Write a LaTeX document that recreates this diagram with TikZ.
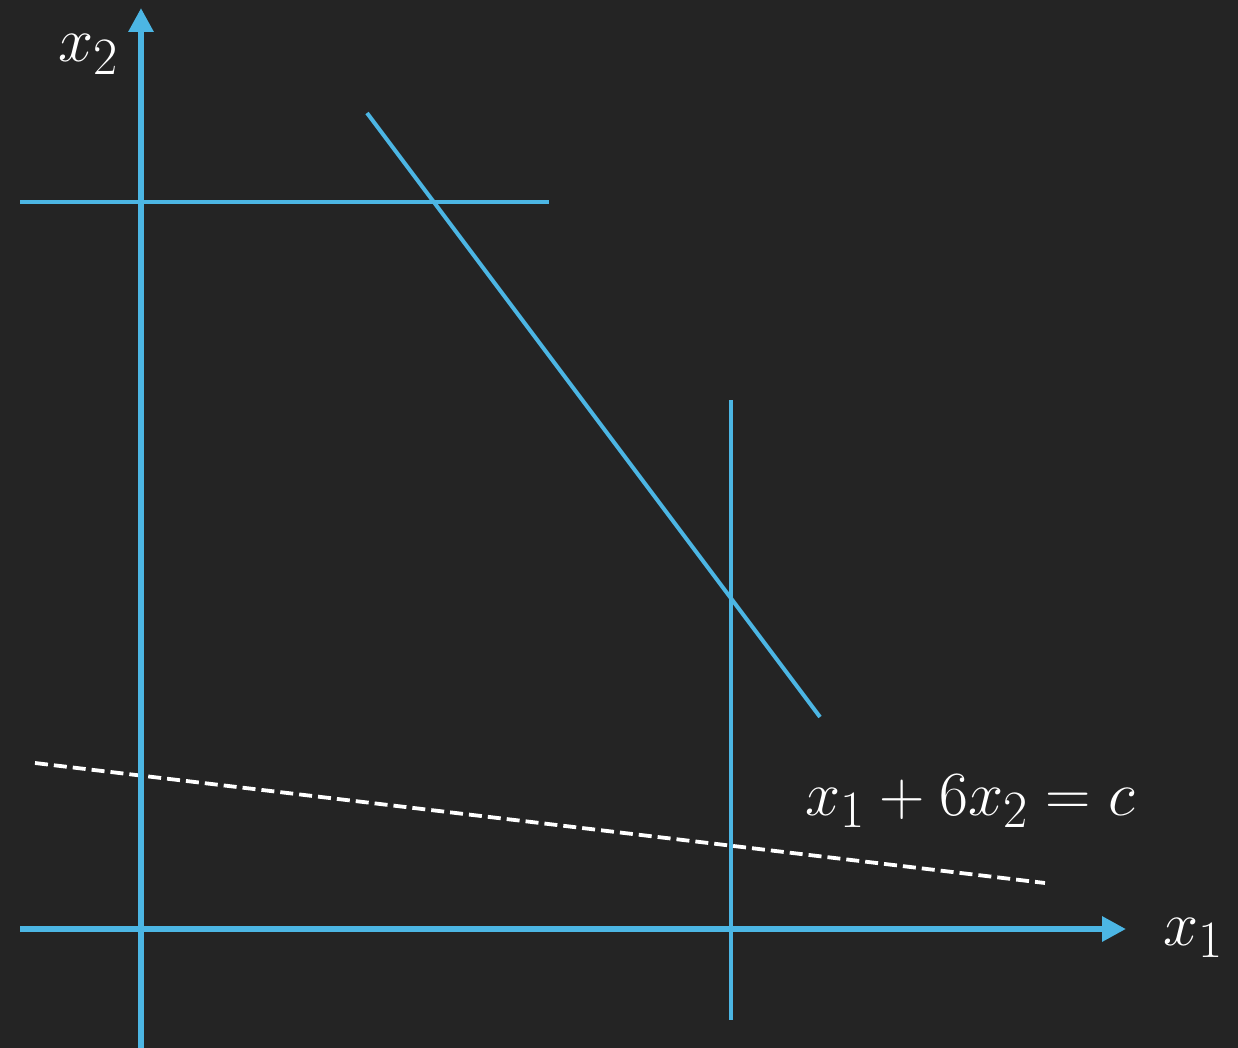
\documentclass[tikz,border=0pt]{standalone}
\usetikzlibrary{arrows.meta}
\definecolor{board}{RGB}{36,36,36}
\definecolor{chalkblue}{RGB}{76,182,228}
\tikzset{
  axis/.style={draw=chalkblue, line width=6pt, -{Triangle[length=24pt,width=24pt]}},
  bline/.style={draw=chalkblue, line width=4pt},
  dline/.style={draw=white, line width=3.8pt, dash pattern=on 13pt off 6pt},
  lbl/.style={text=white, inner sep=0pt, anchor=base west, font=\Huge, scale=2.53, transform shape}
}
\begin{document}
\begin{tikzpicture}[x=1pt,y=-1pt]
\fill[board] (0,0) rectangle (1238,1048);
\useasboundingbox (0,0) rectangle (1238,1048);
% coordinates
\coordinate (ys) at (141,1048);
\coordinate (ye) at (141,8);
\coordinate (xs) at (20,929);
\coordinate (xe) at (1126,929);
\coordinate (hs) at (20,202);
\coordinate (he) at (549,202);
\coordinate (ss) at (367,113);
\coordinate (se) at (820,717);
\coordinate (vs) at (731,400);
\coordinate (ve) at (731,1020);
\coordinate (ds) at (35,763);
\coordinate (de) at (1045,883);
% lines
\draw[bline] (hs) -- (he);
\draw[bline] (ss) -- (se);
\draw[bline] (vs) -- (ve);
\draw[dline] (ds) -- (de);
\draw[axis] (ys) -- (ye);
\draw[axis] (xs) -- (xe);
% labels
\node[lbl] (lx2) at (58,62) {$x_2$};
\node[lbl] (lx1) at (1163,945) {$x_1$};
\node[lbl] (leq) at (805,815) {$x_1+6x_2=c$};
\end{tikzpicture}
\end{document}
